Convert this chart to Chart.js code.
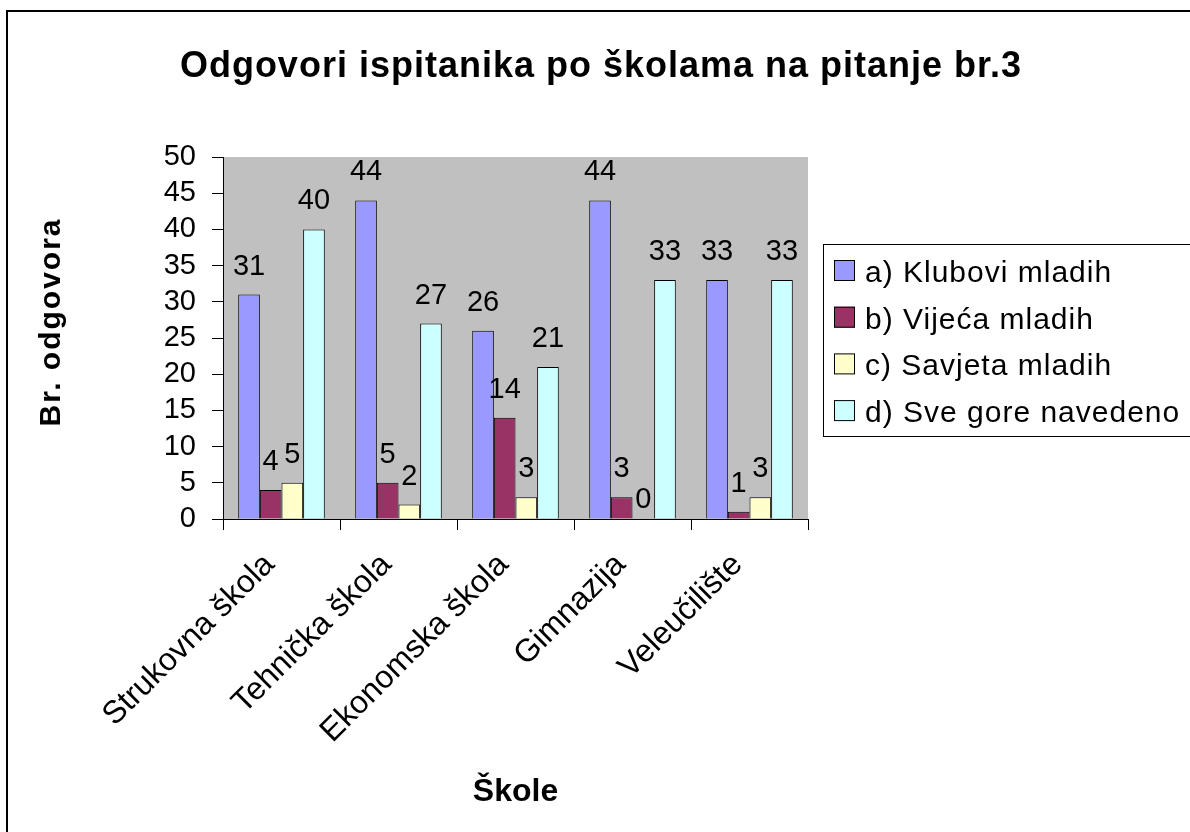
<!DOCTYPE html>
<html lang="hr">
<head>
<meta charset="UTF-8">
<title>Odgovori ispitanika po školama</title>
<script src="https://cdn.jsdelivr.net/npm/chart.js"></script>
<style>
    html, body { margin: 0; padding: 0; background: #fff; }
    #wrap { width: 1190px; height: 832px; position: relative; }
</style>
</head>
<body>
<div id="wrap"><canvas id="chart"></canvas></div>
<script>
    const schools = ['Strukovna škola', 'Tehnička škola', 'Ekonomska škola', 'Gimnazija', 'Veleučilište'];
    const seriesNames = ['a) Klubovi mladih', 'b) Vijeća mladih', 'c) Savjeta mladih', 'd) Sve gore navedeno'];
    const klubovi = [31, 44, 26, 44, 33];
    const vijeca = [4, 5, 14, 3, 1];
    const savjeta = [5, 2, 3, 0, 3];
    const sveGore = [40, 27, 21, 33, 33];
    const colors = ['#9999FF', '#993366', '#FFFFCC', '#CCFFFF'];

    const FONT = 'Arial, "Liberation Sans", sans-serif';

    // excel-ish extras: gray plot area, frame, title, legend box, value labels
    const excelLook = {
        id: 'excelLook',
        beforeDraw(chart) {
            const {ctx, chartArea: a} = chart;
            ctx.save();
            ctx.fillStyle = '#fff';
            ctx.fillRect(0, 0, chart.width, chart.height);
            ctx.fillStyle = '#C0C0C0';
            ctx.fillRect(a.left, a.top, a.right - a.left, a.bottom - a.top);
            ctx.strokeStyle = '#000';
            ctx.lineWidth = 2;
            ctx.strokeRect(7, 11, chart.width + 20, chart.height + 20);
            ctx.restore();
        },
        afterDatasetsDraw(chart) {
            const ctx = chart.ctx;
            ctx.save();
            ctx.font = '29px ' + FONT;
            ctx.fillStyle = '#000';
            ctx.textAlign = 'center';
            ctx.textBaseline = 'alphabetic';
            chart.data.datasets.forEach((ds, i) => {
                chart.getDatasetMeta(i).data.forEach((bar, j) => {
                    const v = ds.data[j];
                    // zero bars get their label a bit lower, like the original
                    const gap = v === 0 ? 11 : 20;
                    ctx.fillText(String(v), bar.x, bar.y - gap);
                });
            });
            ctx.restore();
        },
        afterDraw(chart) {
            const ctx = chart.ctx;
            ctx.save();
            ctx.fillStyle = '#000';
            ctx.textBaseline = 'alphabetic';

            // title
            ctx.font = 'bold 36px ' + FONT;
            ctx.letterSpacing = '1px';
            ctx.textAlign = 'center';
            ctx.fillText('Odgovori ispitanika po školama na pitanje br.3', 601, 77);

            // y axis title
            ctx.save();
            ctx.translate(60, 322);
            ctx.rotate(-Math.PI / 2);
            ctx.font = 'bold 30px ' + FONT;
            ctx.letterSpacing = '2px';
            ctx.textAlign = 'center';
            ctx.fillText('Br. odgovora', 0, 0);
            ctx.restore();

            // legend
            ctx.lineWidth = 1;
            ctx.strokeStyle = '#000';
            ctx.strokeRect(823.5, 244.5, 420, 192);
            ctx.font = '30px ' + FONT;
            ctx.letterSpacing = '1px';
            ctx.textAlign = 'left';
            chart.data.datasets.forEach((ds, i) => {
                const cy = 270 + i * 46.7;
                ctx.fillStyle = ds.backgroundColor;
                ctx.fillRect(834, cy - 10, 21, 21);
                ctx.strokeRect(834.5, cy - 9.5, 20, 20);
                ctx.fillStyle = '#000';
                ctx.fillText(ds.label, 865, cy + 12);
            });
            ctx.restore();
        }
    };

    const datasets = [klubovi, vijeca, savjeta, sveGore].map((d, i) => ({
        label: seriesNames[i],
        data: d,
        backgroundColor: colors[i],
        borderColor: '#000',
        borderWidth: 1,
        categoryPercentage: 0.74,
        barPercentage: 1.0
    }));

    new Chart(document.getElementById('chart'), {
        type: 'bar',
        data: { labels: schools, datasets: datasets },
        plugins: [excelLook],
        options: {
            responsive: true,
            maintainAspectRatio: false,
            animation: false,
            layout: { padding: { left: 0, top: 157, right: 382, bottom: 0 } },
            plugins: {
                legend: { display: false },
                title: { display: false },
                tooltip: { enabled: false }
            },
            scales: {
                x: {
                    afterFit: s => { s.height = 313; },
                    grid: { offset: true, drawOnChartArea: false, tickLength: 11, color: '#000' },
                    border: { display: true, color: '#000', width: 1 },
                    ticks: {
                        autoSkip: false,
                        minRotation: 45,
                        maxRotation: 45,
                        padding: 16,
                        labelOffset: -12,
                        color: '#000',
                        font: { family: FONT, size: 32 }
                    },
                    title: {
                        display: true,
                        text: 'Škole',
                        color: '#000',
                        font: { family: FONT, size: 32, weight: 'bold' },
                        padding: { top: 0, bottom: 21 }
                    }
                },
                y: {
                    min: 0,
                    max: 50,
                    afterFit: s => { s.width = 223; },
                    grid: { drawOnChartArea: false, tickLength: 11, color: '#000' },
                    border: { display: true, color: '#000', width: 1 },
                    ticks: {
                        stepSize: 5,
                        autoSkip: false,
                        padding: 16,
                        color: '#000',
                        font: { family: FONT, size: 29 }
                    }
                }
            }
        }
    });
</script>
</body>
</html>
